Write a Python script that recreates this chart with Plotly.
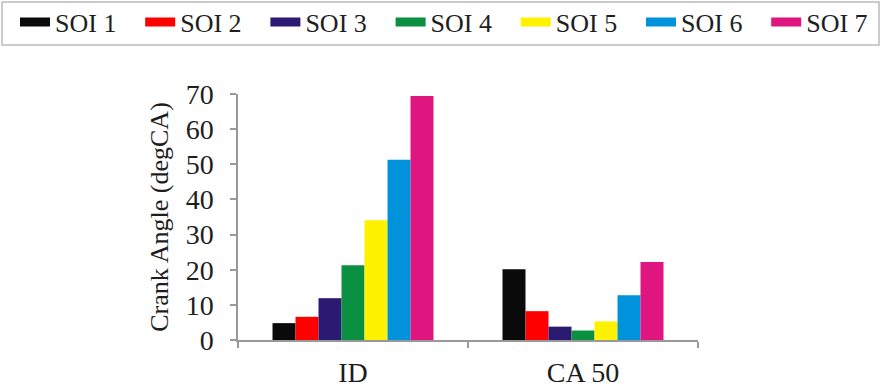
import plotly.graph_objects as go

categories = ["ID", "CA 50"]
series_names = ["SOI 1", "SOI 2", "SOI 3", "SOI 4", "SOI 5", "SOI 6", "SOI 7"]
soi1 = [4.8, 20.1]
soi2 = [6.6, 8.2]
soi3 = [11.9, 3.8]
soi4 = [21.3, 2.7]
soi5 = [34.1, 5.3]
soi6 = [51.3, 12.7]
soi7 = [69.4, 22.2]
series_values = [soi1, soi2, soi3, soi4, soi5, soi6, soi7]
colors = ["#0a0a0a", "#ff0000", "#2b1a72", "#0a9040", "#fff200", "#0093dc", "#df1580"]
y_ticks = [0, 10, 20, 30, 40, 50, 60, 70]

FONT = "Liberation Serif"
TXT = "#1e1e1e"

W, H = 885, 390
ML, MT = 238, 94
PW, PH = 460, 246
MR, MB = W - ML - PW, H - MT - PH


def px_to_paper_x(px):
    return (px - ML) / PW


def px_to_paper_y(py):
    return (MT + PH - py) / PH


fig = go.Figure()
for name, vals, col in zip(series_names, series_values, colors):
    fig.add_trace(go.Bar(
        x=categories, y=vals, name=name, marker=dict(color=col, line=dict(width=0)),
        legendgroup=name, showlegend=False,
    ))

legend_layouts = {}
for i, (name, col) in enumerate(zip(series_names, colors)):
    lname = "legend" if i == 0 else f"legend{i + 1}"
    fig.add_trace(go.Scatter(
        x=[None], y=[None], mode="lines", name=name, legendgroup=name,
        line=dict(color=col, width=9), showlegend=True, legend=lname,
    ))
    legend_layouts[lname] = dict(
        orientation="h", xref="paper", yref="paper",
        x=px_to_paper_x(15 + 125.2 * i), y=px_to_paper_y(22),
        xanchor="left", yanchor="middle",
        borderwidth=0, bgcolor="rgba(0,0,0,0)",
        font=dict(family=FONT, size=26, color=TXT), itemwidth=30,
    )

fig.add_shape(
    type="rect", xref="paper", yref="paper",
    x0=px_to_paper_x(2), x1=px_to_paper_x(879),
    y0=px_to_paper_y(45), y1=px_to_paper_y(2),
    line=dict(color="#bbbbbb", width=1.5), fillcolor="rgba(0,0,0,0)", layer="below",
)

fig.update_layout(
    width=W, height=H,
    margin=dict(l=ML, r=MR, t=MT, b=MB, autoexpand=False),
    paper_bgcolor="white", plot_bgcolor="white",
    barmode="group", bargap=0.3, bargroupgap=0,
    font=dict(family=FONT, size=27, color=TXT),
    showlegend=True,
    xaxis=dict(
        type="category", showline=True, linecolor="#999999", linewidth=1.5,
        ticks="outside", tickson="boundaries", ticklen=6, tickcolor="#999999", tickwidth=1.5,
        tickfont=dict(family=FONT, size=28, color=TXT), ticklabelstandoff=7,
        showgrid=False, zeroline=False,
    ),
    yaxis=dict(
        range=[0, 70], tickvals=y_ticks, showline=True, linecolor="#999999", linewidth=1.5,
        ticks="outside", ticklen=6, tickcolor="#999999", tickwidth=1.5,
        tickfont=dict(family=FONT, size=28, color=TXT), ticklabelstandoff=11,
        showgrid=False, zeroline=False,
        title=dict(text="Crank Angle (degCA)", font=dict(family=FONT, size=26, color=TXT), standoff=10),
    ),
)
fig.update_layout(**legend_layouts)

fig.write_html(
    "out.html",
    config={"displayModeBar": False},
    post_script="document.body.style.margin='0';",
)
